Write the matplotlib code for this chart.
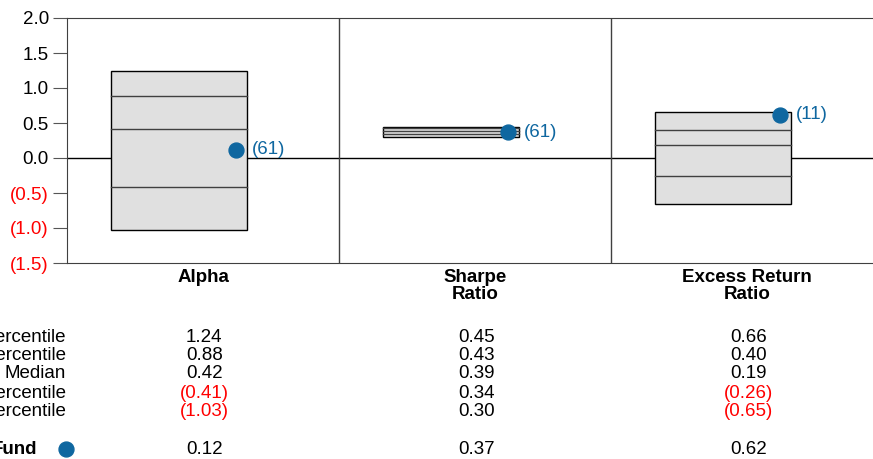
import matplotlib.pyplot as plt
from matplotlib.patches import Rectangle
from matplotlib.transforms import blended_transform_factory

plt.rcParams['font.family'] = ['Liberation Sans', 'DejaVu Sans']

# percentile data per statistic
categories = ['Alpha', 'Sharpe\nRatio', 'Excess Return\nRatio']
row_labels = ['5th Percentile', '25th Percentile', 'Median', '75th Percentile', '95th Percentile']
p05 = [1.24, 0.45, 0.66]
p25 = [0.88, 0.43, 0.40]
p50 = [0.42, 0.39, 0.19]
p75 = [-0.41, 0.34, -0.26]
p95 = [-1.03, 0.30, -0.65]
fund = [0.12, 0.37, 0.62]
fund_rank = [61, 61, 11]
yticks = [2.0, 1.5, 1.0, 0.5, 0.0, -0.5, -1.0, -1.5]

blue = '#0f67a0'
red = '#ff0000'
fs = 13.5

def fmt(v, nd=2):
    return f'({abs(v):.{nd}f})' if v < 0 else f'{v:.{nd}f}'

fig = plt.figure(figsize=(8.73, 4.59), dpi=100)
ax = fig.add_axes([67 / 873, 196 / 459, 816 / 873, 245 / 459])
ax.set_xlim(0, 3)
ax.set_ylim(-1.5, 2.0)

ax.axhline(0, color='black', lw=1, zorder=1)
for x in [1, 2]:
    ax.axvline(x, color='#404040', lw=1, zorder=1)

box_off, box_w = 0.412, 0.5
for i in range(3):
    cx = i + box_off
    ax.add_patch(Rectangle((cx - box_w / 2, p95[i]), box_w, p05[i] - p95[i],
                           facecolor='#e0e0e0', edgecolor='black', lw=1, zorder=2))
    for v in [p25[i], p50[i], p75[i]]:
        ax.plot([cx - box_w / 2, cx + box_w / 2], [v, v], color='#404040', lw=1, zorder=3)
    ax.scatter([i + 0.621], [fund[i]], s=115, color=blue, zorder=4)
    ax.text(i + 0.68, fund[i], f'({fund_rank[i]})', color=blue, fontsize=fs,
            va='center', ha='left')

ax.set_yticks(yticks)
ax.set_yticklabels([fmt(v, 1) for v in yticks], fontsize=fs)
for lab, v in zip(ax.get_yticklabels(), yticks):
    lab.set_color(red if v < 0 else 'black')
ax.tick_params(axis='y', length=10, color='#555555', pad=3)
ax.set_xticks([])
for s in ['left', 'top', 'bottom']:
    ax.spines[s].set_color('#404040')
ax.spines['right'].set_visible(False)

tr = blended_transform_factory(ax.transData, fig.transFigure)
for i, c in enumerate(categories):
    ax.text(i + 0.5, 1 - 269 / 459, c, transform=tr, ha='center', va='top',
            fontsize=fs, fontweight='bold', linespacing=1.0)

rows = [p05, p25, p50, p75, p95]
row_y = [337, 355, 374, 393, 412]
for lab, vals, py in zip(row_labels, rows, row_y):
    yf = 1 - py / 459
    ax.text(-0.005, yf, lab, transform=tr, ha='right', va='center', fontsize=fs)
    for i, v in enumerate(vals):
        ax.text(i + 0.505, yf, fmt(v), transform=tr, ha='center', va='center',
                fontsize=fs, color=red if v < 0 else 'black')

yf = 1 - 450 / 459
ax.text(-0.11, yf, 'Fund', transform=tr, ha='right', va='center', fontsize=fs, fontweight='bold')
ax.scatter([-0.002], [1 - 449 / 459], s=115, color=blue, transform=tr, clip_on=False)
for i, v in enumerate(fund):
    ax.text(i + 0.505, yf, fmt(v), transform=tr, ha='center', va='center', fontsize=fs)

fig.savefig('out.png', dpi=100)
